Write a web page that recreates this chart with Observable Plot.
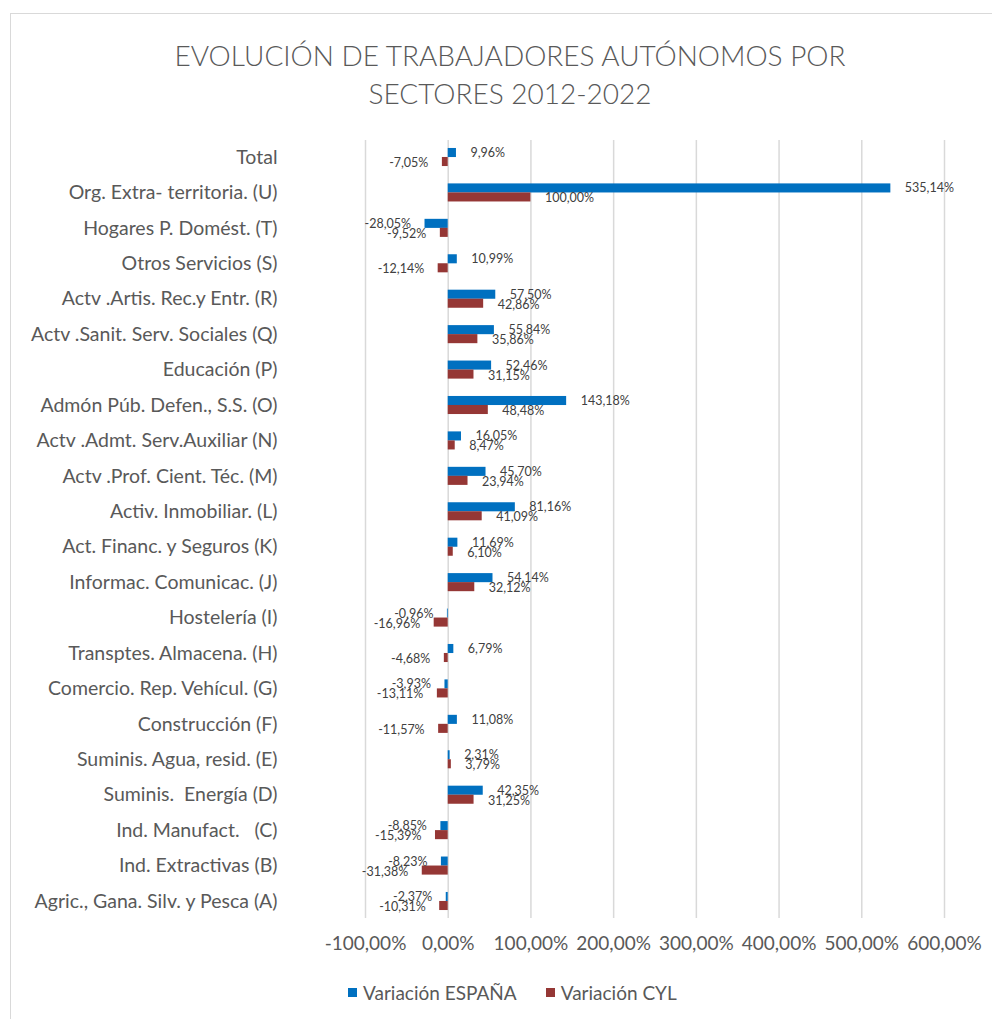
<!DOCTYPE html>
<html>
<head>
<meta charset="utf-8">
<script src="https://cdn.jsdelivr.net/npm/d3@7"></script>
<script src="https://cdn.jsdelivr.net/npm/@observablehq/plot@0.6"></script>
<style>
  html, body { margin: 0; padding: 0; overflow: hidden; background: #fff; width: 992px; height: 1019px; }
  body { position: relative; font-family: Lato, "Open Sans", sans-serif; }
  #frame { position: absolute; left: 10px; top: 13px; width: 1000px; height: 1020px; border: 1px solid #d9d9d9; box-sizing: border-box; }
  #title { position: absolute; left: 0; top: 36px; width: 1020px; text-align: center; font-size: 28px; line-height: 38px; color: #595959; font-weight: 300; }
  #chart { position: absolute; left: 0; top: 120px; }
  #legend { position: absolute; left: 348px; top: 981px; font-size: 19px; color: #595959; display: flex; align-items: center; }
  #legend .sw { display: inline-block; width: 9px; height: 9px; margin-right: 6px; }
  #legend .item { display: flex; align-items: center; margin-right: 29px; }
</style>
</head>
<body>
<div id="frame"></div>
<div id="title">EVOLUCIÓN DE TRABAJADORES AUTÓNOMOS POR<br>SECTORES 2012-2022</div>
<div id="chart"></div>
<div id="legend"></div>
<script>
const categories = [
  "Total",
  "Org. Extra- territoria. (U)",
  "Hogares P. Domést. (T)",
  "Otros Servicios (S)",
  "Actv .Artis. Rec.y Entr. (R)",
  "Actv .Sanit. Serv. Sociales (Q)",
  "Educación (P)",
  "Admón Púb. Defen., S.S. (O)",
  "Actv .Admt. Serv.Auxiliar (N)",
  "Actv .Prof. Cient. Téc. (M)",
  "Activ. Inmobiliar. (L)",
  "Act. Financ. y Seguros (K)",
  "Informac. Comunicac. (J)",
  "Hostelería (I)",
  "Transptes. Almacena. (H)",
  "Comercio. Rep. Vehícul. (G)",
  "Construcción (F)",
  "Suminis. Agua, resid. (E)",
  "Suminis.  Energía (D)",
  "Ind. Manufact.   (C)",
  "Ind. Extractivas (B)",
  "Agric., Gana. Silv. y Pesca (A)"
];
const variacionEspana = [9.96, 535.14, -28.05, 10.99, 57.50, 55.84, 52.46, 143.18, 16.05, 45.70, 81.16, 11.69, 54.14, -0.96, 6.79, -3.93, 11.08, 2.31, 42.35, -8.85, -8.23, -2.37];
const variacionCyl = [-7.05, 100.00, -9.52, -12.14, 42.86, 35.86, 31.15, 48.48, 8.47, 23.94, 41.09, 6.10, 32.12, -16.96, -4.68, -13.11, -11.57, 3.79, 31.25, -15.39, -31.38, -10.31];
const seriesNames = ["Variación ESPAÑA", "Variación CYL"];
const seriesColors = ["#0070C0", "#953735"];
const xTicks = [-100, 0, 100, 200, 300, 400, 500, 600];

const fmt = v => v.toFixed(2).replace(".", ",") + "%";

const esp = categories.map((c, i) => ({cat: c, value: variacionEspana[i]}));
const cyl = categories.map((c, i) => ({cat: c, value: variacionCyl[i]}));

const half = 9;
const labelFont = 12.5;
const labelFill = "#404040";

function labels(data, dy) {
  return [
    Plot.text(data.filter(d => d.value >= 0), {x: "value", y: "cat", text: d => fmt(d.value), dx: 14, dy, textAnchor: "start", fontSize: labelFont, fill: labelFill}),
    Plot.text(data.filter(d => d.value < 0), {x: "value", y: "cat", text: d => fmt(d.value), dx: -14, dy, textAnchor: "end", fontSize: labelFont, fill: labelFill})
  ];
}

const chart = Plot.plot({
  width: 992,
  height: 840,
  marginLeft: 365,
  marginRight: 48,
  marginTop: 20,
  marginBottom: 42,
  style: {fontFamily: "Lato, 'Open Sans', sans-serif", background: "transparent"},
  x: {domain: [-100, 600]},
  y: {domain: categories, paddingInner: 0.49, paddingOuter: 0.225, round: false},
  marks: [
    Plot.ruleX(xTicks, {stroke: "#d9d9d9", strokeWidth: 1.5}),
    Plot.barX(esp, {x: "value", y: "cat", fill: seriesColors[0], insetBottom: half}),
    Plot.barX(cyl, {x: "value", y: "cat", fill: seriesColors[1], insetTop: half}),
    ...labels(esp, -4.5),
    ...labels(cyl, 5.5),
    Plot.axisY({tickSize: 0, tickPadding: 88, fontSize: 19.5, fill: "#595959", label: null}),
    Plot.axisX({ticks: xTicks, tickFormat: fmt, tickSize: 0, tickPadding: 18, fontSize: 19, fill: "#595959", label: null})
  ]
});
document.getElementById("chart").appendChild(chart);

const legend = document.getElementById("legend");
seriesNames.forEach((name, i) => {
  const item = document.createElement("span");
  item.className = "item";
  const sw = document.createElement("span");
  sw.className = "sw";
  sw.style.background = seriesColors[i];
  item.appendChild(sw);
  item.appendChild(document.createTextNode(name));
  legend.appendChild(item);
});
</script>
</body>
</html>
